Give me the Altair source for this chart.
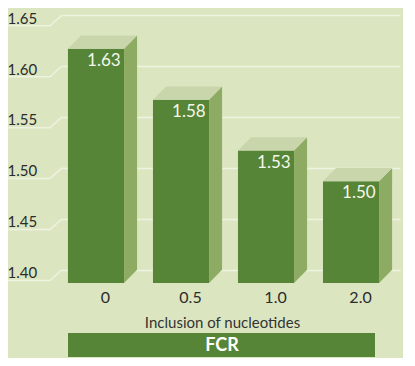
import altair as alt
import pandas as pd

categories = ["0", "0.5", "1.0", "2.0"]
values = [1.63, 1.58, 1.53, 1.50]
y_ticks = [1.40, 1.45, 1.50, 1.55, 1.60, 1.65]
x_title = "Inclusion of nucleotides"
banner = "FCR"

BASE = 1.40
DY = 0.013   # 3D depth (vertical) in data units
DX = 0.153   # 3D depth (horizontal) in x units
HW = 0.33    # half width of front face

FRONT = "#568538"
SIDE = "#8dab63"
TOP = "#c9d6ab"
BG = "#dbe6c1"
GRID = "#eef2e0"
FONT = "Lato"

idx = list(range(len(categories)))
front = pd.DataFrame({
    "cat": categories, "i": idx, "v": values,
    "x0": [i - HW for i in idx], "x1": [i + HW for i in idx],
    "y0": [BASE - DY] * len(idx), "y1": [v - DY for v in values],
    "tx": [i + HW - 0.04 for i in idx],
})

side_rows = []
top_rows = []
for i, v in zip(idx, values):
    side_rows.append({"i": i, "x": i + HW, "lo": BASE - DY, "hi": v - DY})
    side_rows.append({"i": i, "x": i + HW + DX, "lo": BASE, "hi": v})
    top_rows.append({"i": i, "y": v - DY, "l": i - HW, "r": i + HW})
    top_rows.append({"i": i, "y": v, "l": i - HW + DX, "r": i + HW + DX})
side = pd.DataFrame(side_rows)
top = pd.DataFrame(top_rows)

conn_rows = []
for t in y_ticks:
    conn_rows.append({"t": t, "x": -1.03, "y": t - 0.0105, "o": 0})
    conn_rows.append({"t": t, "x": -0.541, "y": t - 0.0105, "o": 1})
    conn_rows.append({"t": t, "x": -0.4, "y": t, "o": 2})
conn = pd.DataFrame(conn_rows)

xscale = alt.Scale(domain=[-0.4, 3.576], nice=False, zero=False)
yscale = alt.Scale(domain=[1.387, 1.654], nice=False, zero=False)

label_expr = "[" + ",".join(f"'{c}'" for c in categories) + "][datum.value]"

front_layer = alt.Chart(front).mark_rect(color=FRONT).encode(
    x=alt.X("x0:Q", scale=xscale, axis=alt.Axis(
        values=idx, labelExpr=label_expr, labelOffset=9, labelPadding=6,
        labelFontSize=16, labelColor="#2b2b2b", labelFont=FONT,
        domain=False, ticks=False, grid=False,
        title=x_title, titleFont=FONT, titleFontSize=15, titleFontWeight="normal",
        titleColor="#333333", titleX=160, titleY=39, titleBaseline="middle",
        titleAnchor="start", titleAlign="center")),
    x2="x1:Q",
    y=alt.Y("y0:Q", scale=yscale, axis=alt.Axis(
        values=y_ticks, format=".2f", labelAlign="left", labelPadding=55,
        labelBaseline="alphabetic", labelOffset=8, labelFontSize=15,
        labelColor="#2b2b2b", labelFont=FONT, domain=False, ticks=False,
        grid=True, gridColor=GRID, gridWidth=1.5, title=None)),
    y2="y1:Q",
)

side_layer = alt.Chart(side).mark_area(color=SIDE, opacity=1).encode(
    x=alt.X("x:Q", scale=xscale),
    y=alt.Y("lo:Q", scale=yscale),
    y2="hi:Q",
    detail="i:N",
)

top_layer = alt.Chart(top).mark_area(color=TOP, opacity=1, orient="horizontal").encode(
    y=alt.Y("y:Q", scale=yscale),
    x=alt.X("l:Q", scale=xscale),
    x2="r:Q",
    detail="i:N",
)

conn_layer = alt.Chart(conn).mark_line(color=GRID, strokeWidth=1.5).encode(
    x=alt.X("x:Q", scale=xscale),
    y=alt.Y("y:Q", scale=yscale),
    detail="t:N",
    order="o:Q",
)

text_layer = alt.Chart(front).mark_text(
    align="right", baseline="middle", dy=12, fontSize=17, font=FONT, color="#f4f8ea"
).encode(
    x=alt.X("tx:Q", scale=xscale),
    y=alt.Y("y1:Q", scale=yscale),
    text=alt.Text("v:Q", format=".2f"),
)

banner_df = pd.DataFrame({"label": [banner]})
banner_rect = alt.Chart(banner_df).mark_rect(color=FRONT).encode(
    x=alt.value(6), x2=alt.value(313), y=alt.value(322), y2=alt.value(346)
)
banner_text = alt.Chart(banner_df).mark_text(
    fontSize=18, fontWeight="bold", font=FONT, color="white", baseline="middle"
).encode(x=alt.value(160), y=alt.value(335), text="label:N")

chart = alt.layer(
    conn_layer, front_layer, side_layer, top_layer, text_layer, banner_rect, banner_text
).properties(
    width=338, height=272,
    autosize=alt.AutoSizeParams(type="none"),
    padding={"left": 54, "top": 3, "right": 3, "bottom": 75},
    background=BG,
).configure_view(stroke=None)

chart.save("out.html", embed_options={"renderer": "svg", "actions": False})
